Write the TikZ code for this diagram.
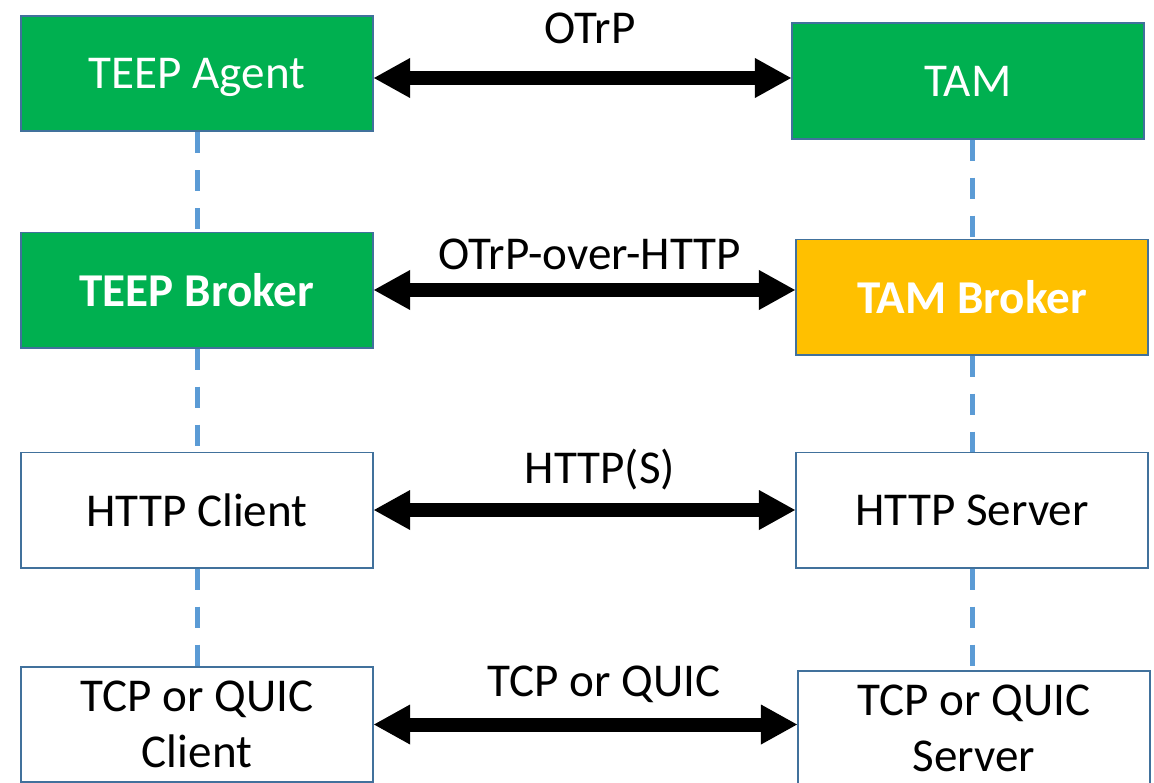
\documentclass[tikz,border=0pt]{standalone}
\usepackage{fontspec}
\setmainfont{Carlito}
\usetikzlibrary{arrows.meta}
\definecolor{boxgreen}{HTML}{00B050}
\definecolor{boxgold}{HTML}{FFC000}
\definecolor{boxedge}{HTML}{41719C}
\definecolor{lifeline}{HTML}{5B9BD5}

\begin{document}
\begin{tikzpicture}[x=0.025cm, y=-0.025cm,
	layer/.style={draw=boxedge, line width=1.4pt, minimum width=8.8cm, minimum height=2.875cm,
		inner sep=0pt, text depth=0pt, align=center, font=\fontsize{33.5}{40}\selectfont},
	greenbox/.style={layer, fill=boxgreen, text=white},
	goldbox/.style={layer, fill=boxgold, text=white, font=\fontsize{33.5}{40}\selectfont\bfseries},
	plainbox/.style={layer, fill=white},
	proto/.style={font=\fontsize{33.5}{40}\selectfont},
	biarrow/.style={line width=0.35cm, {Triangle[length=0.9cm,width=1cm,line width=0pt]}-{Triangle[length=0.9cm,width=1cm,line width=0pt]}},
	stack/.style={lifeline, line width=0.125cm, dash pattern=on 0.525cm off 0.425cm}]
	\useasboundingbox (0,0) rectangle (1154,782);

	% device side
	\node[greenbox] (agent) at (197,73.5) {TEEP Agent};
	\node[greenbox, font=\fontsize{33.5}{40}\selectfont\bfseries] (teepbroker) at (197,290) {TEEP Broker};
	\node[plainbox] (httpclient) at (197,510) {HTTP Client};
	\node[plainbox] (tcpclient) at (197,724.5) {TCP or QUIC\\Client};

	% server side
	\node[greenbox] (tam) at (968,81) {TAM};
	\node[goldbox] (tambroker) at (972,297) {TAM Broker};
	\node[plainbox] (httpserver) at (972,510) {HTTP Server};
	\node[plainbox] (tcpserver) at (974,728.5) {TCP or QUIC\\Server};

	% layering (dashed)
	\draw[stack] (agent.south) -- (teepbroker.north);
	\draw[stack] (teepbroker.south) -- (httpclient.north);
	\draw[stack] (httpclient.south) -- (tcpclient.north);
	\draw[stack] (tambroker.north |- tam.south) -- (tambroker.north);
	\draw[stack] (tambroker.south) -- (httpserver.north);
	\draw[stack] (httpserver.south) -- (httpserver.south |- tcpserver.north);

	% protocols
	\draw[biarrow] ([yshift=-4.5*0.025cm]agent.east) -- ([yshift=-4.5*0.025cm]agent.east -| tam.west);
	\draw[biarrow] (teepbroker.east) -- (teepbroker.east -| tambroker.west);
	\draw[biarrow] (httpclient.east) -- (httpclient.east -| httpserver.west);
	\draw[biarrow] (tcpclient.east) -- (tcpclient.east -| tcpserver.west);

	\node[proto] (lblotrp) at (590,28) {OTrP};
	\node[proto] (lblover) at (590,254) {OTrP-over-HTTP};
	\node[proto] (lblhttp) at (600,470) {HTTP(S)};
	\node[proto] (lbltcp) at (604,684) {TCP or QUIC};
\end{tikzpicture}
\end{document}
